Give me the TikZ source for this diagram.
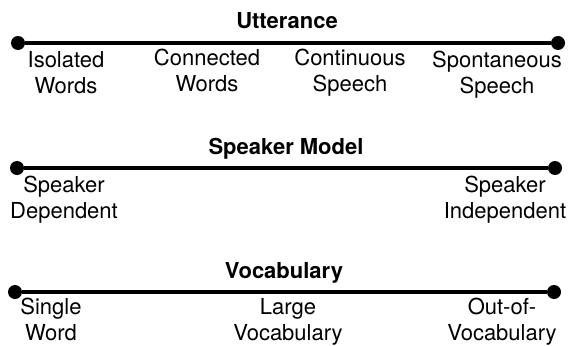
\documentclass[tikz,border=0pt]{standalone}
\usepackage{fontspec}
\setmainfont{TeX Gyre Heros}
\usetikzlibrary{positioning}

\begin{document}
\begin{tikzpicture}[x=1pt,y=-1pt,
        dot/.style={circle,fill,inner sep=0pt,minimum size=14pt},
        axis/.style={line width=3.5pt},
        title/.style={font=\fontsize{22}{26}\selectfont\bfseries,anchor=base,inner sep=0pt},
        lbl/.style={font=\fontsize{22}{26}\selectfont,align=center,anchor=north,inner sep=0pt}]
        \useasboundingbox (0,0) rectangle (569,345);
        % Utterance
        \node[dot] (ul) at (18,43) {};
        \node[dot] (ur) at (558,43) {};
        \draw[axis] (ul) -- (ur);
        \node[title] (utt) at (287,29) {Utterance};
        \node[lbl] (iso) at (66,51) {Isolated\\Words};
        \node[lbl] (con) at (207,49) {Connected\\Words};
        \node[lbl] (cont) at (350,49) {Continuous\\Speech};
        \node[lbl] (spon) at (497,51) {Spontaneous\\Speech};
        % Speaker Model
        \node[dot] (sl) at (17,168) {};
        \node[dot] (sr) at (555,168) {};
        \draw[axis] (sl) -- (sr);
        \node[title] (spk) at (286,154) {Speaker Model};
        \node[lbl] (dep) at (64,176) {Speaker\\Dependent};
        \node[lbl] (indep) at (505,176) {Speaker\\Independent};
        % Vocabulary
        \node[dot] (vl) at (15,292) {};
        \node[dot] (vr) at (554,292) {};
        \draw[axis] (vl) -- (vr);
        \node[title] (voc) at (284,278) {Vocabulary};
        \node[lbl] (single) at (51,298) {Single\\Word};
        \node[lbl] (large) at (288,298) {Large\\Vocabulary};
        \node[lbl] (oov) at (502,298) {Out-of-\\Vocabulary};
\end{tikzpicture}
\end{document}
